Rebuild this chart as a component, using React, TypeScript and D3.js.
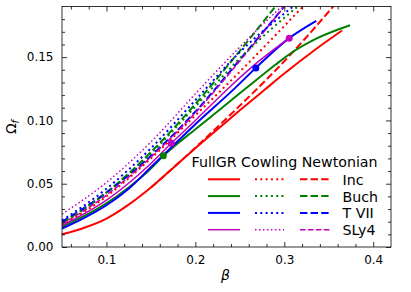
import React from 'react';
import { select, scaleLinear, line, curveMonotoneX, axisBottom, axisLeft, axisTop, axisRight, format, range } from 'd3';

// beta, Omega_f pairs
const incFullGR = [[0.05, 0.010], [0.075, 0.0152], [0.10, 0.0225], [0.125, 0.0335], [0.15, 0.047], [0.175, 0.0625], [0.20, 0.078], [0.225, 0.093], [0.25, 0.108], [0.2775, 0.124], [0.30, 0.137], [0.335, 0.156], [0.365, 0.171]];
const buchFullGR = [[0.05, 0.016], [0.075, 0.0245], [0.10, 0.0345], [0.125, 0.047], [0.15, 0.062], [0.164, 0.072], [0.20, 0.093], [0.23, 0.110], [0.259, 0.1266], [0.29, 0.144], [0.3065, 0.1527], [0.3365, 0.1648], [0.374, 0.1752]];
const tviiFullGR = [[0.05, 0.0145], [0.075, 0.023], [0.10, 0.033], [0.125, 0.046], [0.15, 0.063], [0.2, 0.097], [0.2445, 0.1255], [0.268, 0.1415], [0.3055, 0.165], [0.336, 0.1787]];
const sly4FullGR = [[0.05, 0.017], [0.10, 0.037], [0.15, 0.066], [0.173, 0.082], [0.20, 0.100], [0.239, 0.1266], [0.27, 0.146], [0.3055, 0.165]];

const incCowling = [[0.05, 0.017], [0.10, 0.040], [0.15, 0.070], [0.20, 0.104], [0.233, 0.1266], [0.28, 0.160], [0.321, 0.19]];
const buchCowling = [[0.05, 0.019], [0.10, 0.043], [0.15, 0.074], [0.20, 0.111], [0.25, 0.149], [0.315, 0.19]];
const tviiCowling = [[0.05, 0.021], [0.10, 0.046], [0.15, 0.078], [0.20, 0.116], [0.25, 0.154], [0.31, 0.19]];
const sly4Cowling = [[0.05, 0.026], [0.10, 0.051], [0.15, 0.083], [0.20, 0.121], [0.25, 0.158], [0.30, 0.192]];

const incNewton = [[0.15, 0.047], [0.175, 0.0625], [0.20, 0.0785], [0.2446, 0.108], [0.3065, 0.1516], [0.355, 0.19]];
const buchNewton = [[0.05, 0.019], [0.10, 0.043], [0.15, 0.075], [0.20, 0.113], [0.25, 0.155], [0.29, 0.19]];
const tviiNewton = [[0.05, 0.020], [0.10, 0.043], [0.15, 0.072], [0.20, 0.107], [0.25, 0.148], [0.30, 0.19]];
const sly4Newton = [[0.05, 0.018], [0.10, 0.041], [0.15, 0.071], [0.20, 0.106], [0.25, 0.147], [0.30, 0.19]];

const markerPoints = [[0.164, 0.072, 'Buch'], [0.173, 0.082, 'SLy4'], [0.268, 0.1415, 'T VII'], [0.3055, 0.165, 'SLy4']];

const eosNames = ['Inc', 'Buch', 'T VII', 'SLy4'];
const methodNames = ['FullGR', 'Cowling', 'Newtonian'];
const xTicks = [0.1, 0.2, 0.3, 0.4];
const yTicks = [0, 0.05, 0.1, 0.15];

const colors = { 'Inc': '#ff0000', 'Buch': '#008000', 'T VII': '#0000ff', 'SLy4': '#bf00bf' };
const widths = { 'Inc': 2, 'Buch': 2, 'T VII': 2, 'SLy4': 1.5 };
const dashFor = (method, lw) => method === 'FullGR' ? null : method === 'Cowling' ? `${lw} ${1.65 * lw}` : `${3.7 * lw} ${1.6 * lw}`;

const seriesData = {
    FullGR: [incFullGR, buchFullGR, tviiFullGR, sly4FullGR],
    Cowling: [incCowling, buchCowling, tviiCowling, sly4Cowling],
    Newtonian: [incNewton, buchNewton, tviiNewton, sly4Newton],
};

const dims = { width: 411, height: 292, left: 62, right: 391, top: 6.5, bottom: 247 };
const font = 'DejaVu Sans, sans-serif';

const App = () => {
    const ref = React.useRef(null);

    React.useEffect(() => {
        const svg = select(ref.current);
        svg.selectAll('*').remove();

        const x = scaleLinear().domain([0.05, 0.42]).range([dims.left, dims.right]);
        const y = scaleLinear().domain([0, 0.19]).range([dims.bottom, dims.top]);

        svg.append('clipPath').attr('id', 'plotclip')
            .append('rect')
            .attr('x', dims.left).attr('y', dims.top)
            .attr('width', dims.right - dims.left).attr('height', dims.bottom - dims.top);

        const lineGen = line().x(d => x(d[0])).y(d => y(d[1])).curve(curveMonotoneX);
        const plot = svg.append('g').attr('clip-path', 'url(#plotclip)');

        // draw order: newtonian, cowling, full GR on top
        ['Newtonian', 'Cowling', 'FullGR'].forEach(method => {
            seriesData[method].forEach((pts, i) => {
                const name = eosNames[i];
                const lw = widths[name];
                plot.append('path')
                    .attr('d', lineGen(pts))
                    .attr('fill', 'none')
                    .attr('stroke', colors[name])
                    .attr('stroke-width', lw)
                    .attr('stroke-dasharray', dashFor(method, lw));
            });
        });

        plot.selectAll('circle.mk')
            .data(markerPoints)
            .join('circle')
            .attr('class', 'mk')
            .attr('cx', d => x(d[0]))
            .attr('cy', d => y(d[1]))
            .attr('r', 3.5)
            .attr('fill', d => colors[d[2]]);

        // axes, ticks pointing inward on all sides
        const xMinor = range(0.06, 0.42, 0.02).filter(v => Math.abs(v * 10 - Math.round(v * 10)) > 1e-6);
        const yMinor = range(0.01, 0.19, 0.01).filter(v => Math.abs(v * 20 - Math.round(v * 20)) > 1e-6);

        const addAxis = (gen, tr, labels) => {
            const g = svg.append('g').attr('transform', tr).call(gen);
            g.select('.domain').remove();
            g.selectAll('line').attr('stroke', '#000').attr('stroke-width', 0.8);
            g.selectAll('text').attr('font-family', font).attr('font-size', 12).attr('fill', '#000');
            if (!labels) g.selectAll('text').remove();
            return g;
        };

        addAxis(axisBottom(x).tickValues(xTicks).tickFormat(format('.1f')).tickSize(-5).tickPadding(8), `translate(0,${dims.bottom})`, true);
        addAxis(axisBottom(x).tickValues(xMinor).tickSize(-3), `translate(0,${dims.bottom})`, false);
        addAxis(axisTop(x).tickValues(xTicks).tickSize(-5), `translate(0,${dims.top})`, false);
        addAxis(axisTop(x).tickValues(xMinor).tickSize(-3), `translate(0,${dims.top})`, false);
        addAxis(axisLeft(y).tickValues(yTicks).tickFormat(format('.2f')).tickSize(-5).tickPadding(8.5), `translate(${dims.left},0)`, true);
        addAxis(axisLeft(y).tickValues(yMinor).tickSize(-3), `translate(${dims.left},0)`, false);
        addAxis(axisRight(y).tickValues(yTicks).tickSize(-5), `translate(${dims.right},0)`, false);
        addAxis(axisRight(y).tickValues(yMinor).tickSize(-3), `translate(${dims.right},0)`, false);

        svg.append('rect')
            .attr('x', dims.left).attr('y', dims.top)
            .attr('width', dims.right - dims.left).attr('height', dims.bottom - dims.top)
            .attr('fill', 'none').attr('stroke', '#000').attr('stroke-width', 0.8);

        // axis labels
        svg.append('text')
            .attr('x', (dims.left + dims.right) / 2 - 1).attr('y', 280)
            .attr('text-anchor', 'middle')
            .attr('font-family', font).attr('font-size', 14).attr('font-style', 'italic')
            .text('β');

        const yl = svg.append('text')
            .attr('transform', 'translate(16,127) rotate(-90)')
            .attr('text-anchor', 'middle')
            .attr('font-family', font).attr('font-size', 14);
        yl.append('tspan').text('Ω');
        yl.append('tspan').attr('font-size', 10).attr('font-style', 'italic').attr('dy', 3).text('f');

        // legend
        const legend = svg.append('g').attr('font-family', font).attr('font-size', 14.2);
        legend.append('text').attr('x', 191.5).attr('y', 167.3).text(methodNames.join(' '));
        const handleX = { FullGR: [208, 240], Cowling: [255, 284], Newtonian: [300, 330] };
        eosNames.forEach((name, i) => {
            const cy = 179.3 + i * 16.8;
            methodNames.forEach(method => {
                const lw = widths[name];
                legend.append('line')
                    .attr('x1', handleX[method][0]).attr('x2', handleX[method][1])
                    .attr('y1', cy).attr('y2', cy)
                    .attr('stroke', colors[name])
                    .attr('stroke-width', lw)
                    .attr('stroke-dasharray', dashFor(method, lw));
            });
            legend.append('text').attr('x', 342.5).attr('y', cy + 5.5).text(name);
        });
    }, []);

    return (
        <svg ref={ref} width={dims.width} height={dims.height}
            style={{ position: 'absolute', left: 0, top: 0, background: '#fff' }} />
    );
};

export default App;
